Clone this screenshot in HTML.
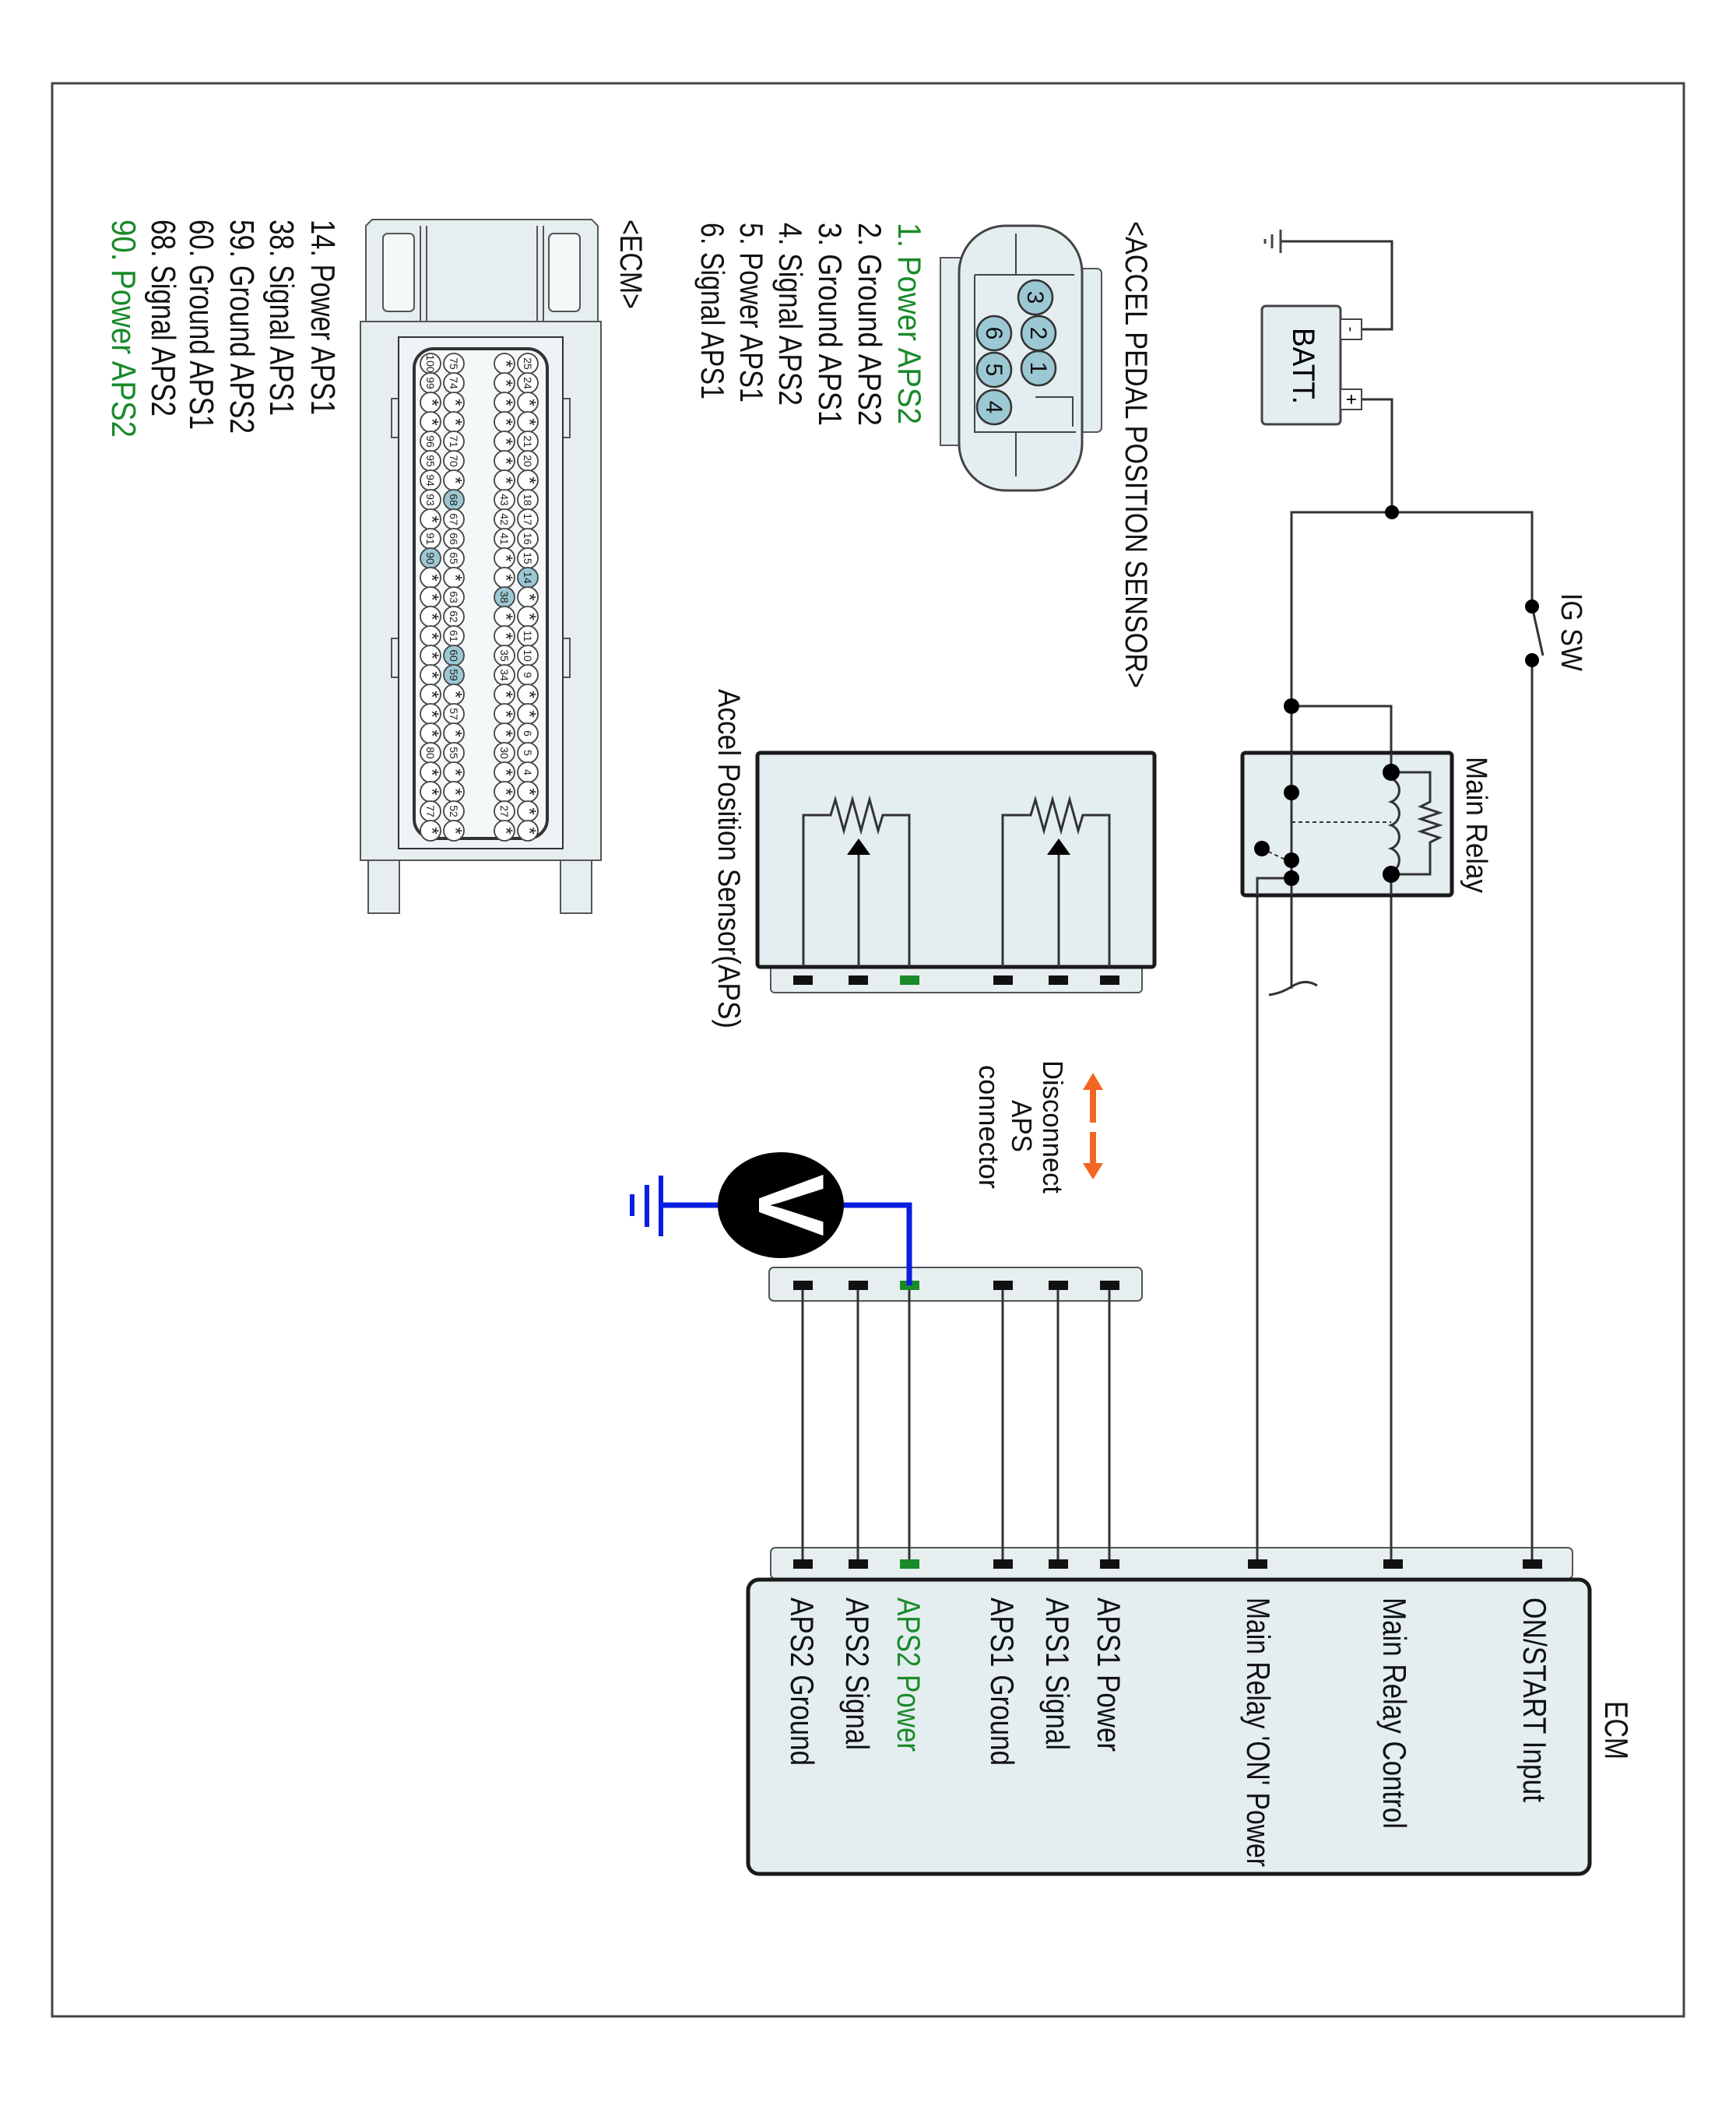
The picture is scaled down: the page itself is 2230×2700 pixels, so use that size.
<!DOCTYPE html>
<html><head><meta charset="utf-8"><style>
html,body{margin:0;padding:0;background:#fff;}
svg{display:block;}
text{font-family:"Liberation Sans",sans-serif;}
</style></head><body>
<svg width="2230" height="2700" viewBox="0 0 2230 2700" xmlns="http://www.w3.org/2000/svg">
<rect x="67" y="107" width="2096" height="2483" fill="#fff" stroke="#444" stroke-width="3"/>

<!-- ECM box -->
<rect x="990" y="1988" width="1030" height="40" rx="6" fill="#e6eef0" stroke="#555" stroke-width="2"/>
<rect x="961" y="2029" width="1081" height="378" rx="14" fill="#e4eef0" stroke="#1a1a1a" stroke-width="5"/>

<!-- upper APS connector strip -->
<rect x="988" y="1628" width="479" height="43" rx="6" fill="#e6eef0" stroke="#555" stroke-width="2"/>

<!-- APS box -->
<rect x="990" y="1240" width="477" height="35" rx="5" fill="#e6eef0" stroke="#555" stroke-width="2"/>
<rect x="973" y="967" width="510" height="275" rx="4" fill="#e4eef0" stroke="#1a1a1a" stroke-width="5"/>

<g stroke="#333" stroke-width="3" fill="none">
<line x1="1031" y1="1651" x2="1031" y2="2009"/>
<line x1="1102" y1="1651" x2="1102" y2="2009"/>
<line x1="1168" y1="1651" x2="1168" y2="2009"/>
<line x1="1288" y1="1651" x2="1288" y2="2009"/>
<line x1="1359" y1="1651" x2="1359" y2="2009"/>
<line x1="1425" y1="1651" x2="1425" y2="2009"/>
<path d="M1032 1242 V1047 H1067 l6 -20 l11 40 l11 -40 l11 40 l11 -40 l11 40 l6 -20 H1168 V1242"/>
<line x1="1103" y1="1097" x2="1103" y2="1242"/>
<path d="M1288 1242 V1047 H1324 l6 -20 l11 40 l11 -40 l11 40 l11 -40 l11 40 l6 -20 H1425 V1242"/>
<line x1="1360" y1="1097" x2="1360" y2="1242"/>
<path d="M1645 310 H1788 V423 H1749"/>
<path d="M1749 513 H1788 V658"/>
<path d="M1659 1270 V658 H1968 V779"/>
<path d="M1968 779 L1982 842"/>
<path d="M1968 848 V2009"/>
<path d="M1659 907 H1787 V992"/>
<path d="M1787 1123 V2009"/>
<path d="M1659 1128 H1615 V2009"/>
<path d="M1630 1278 q15 -2 28 -10 q18 -12 34 -2"/>
</g>

<!-- relay box -->
<rect x="1596" y="967" width="269" height="183" rx="4" fill="#e4eef0" stroke="#1a1a1a" stroke-width="5"/>
<g stroke="#333" stroke-width="3" fill="none">
<line x1="1659" y1="967" x2="1659" y2="1150"/>
<path d="M1659 1128 H1615 V1150"/>
<line x1="1787" y1="967" x2="1787" y2="992"/>
<path d="M1787 992 H1837 V1030 l-12 6 l24 8 l-24 8 l24 8 l-24 8 l24 8 l-12 6 V1123 H1787"/>
<path d="M1787 1000 a16 16 0 0 1 0 30 a16 16 0 0 1 0 30 a16 16 0 0 1 0 30 a16 16 0 0 1 0 30" />
<line x1="1787" y1="1120" x2="1787" y2="1150"/>
<line x1="1659" y1="1056" x2="1787" y2="1056" stroke-dasharray="5 4" stroke-width="2"/>
<line x1="1621" y1="1090" x2="1655" y2="1106" stroke-dasharray="5 4" stroke-width="2"/>
</g>
<g fill="#000">
<circle cx="1788" cy="658" r="9"/>
<circle cx="1968" cy="779" r="9"/>
<circle cx="1968" cy="848" r="9"/>
<circle cx="1659" cy="907" r="10"/>
<circle cx="1787" cy="992" r="11"/>
<circle cx="1787" cy="1123" r="11"/>
<circle cx="1659" cy="1018" r="10"/>
<circle cx="1659" cy="1105" r="10"/>
<circle cx="1659" cy="1128" r="10"/>
<circle cx="1621" cy="1090" r="10"/>
<polygon points="1103,1077 1088,1098 1118,1098"/>
<polygon points="1360,1077 1345,1098 1375,1098"/>
</g>

<g stroke="#444" stroke-width="3">
<line x1="1645" y1="295" x2="1645" y2="325"/>
<line x1="1634" y1="301" x2="1634" y2="319"/>
<line x1="1625" y1="307" x2="1625" y2="313"/>
</g>
<rect x="1621" y="393" width="101" height="152" rx="5" fill="#e4eef0" stroke="#444" stroke-width="3"/>
<rect x="1722" y="410" width="27" height="26" fill="#fff" stroke="#444" stroke-width="2"/>
<rect x="1722" y="500" width="27" height="26" fill="#fff" stroke="#444" stroke-width="2"/>
<text x="1729" y="423" font-size="20" transform="rotate(90 1729 423)" text-anchor="middle">-</text>
<text x="1728" y="513" font-size="24" transform="rotate(90 1728 513)" text-anchor="middle">+</text>
<text x="1661" y="470" font-size="40" transform="rotate(90 1661 470)" text-anchor="middle" textLength="98" lengthAdjust="spacingAndGlyphs">BATT.</text>

<g fill="#111">
<rect x="1019" y="1253" width="25" height="12"/><rect x="1090" y="1253" width="25" height="12"/><rect x="1156" y="1253" width="25" height="12" fill="#1a8a2a"/>
<rect x="1276" y="1253" width="25" height="12"/><rect x="1347" y="1253" width="25" height="12"/><rect x="1413" y="1253" width="25" height="12"/>
<rect x="1019" y="1645" width="25" height="12"/><rect x="1090" y="1645" width="25" height="12"/><rect x="1156" y="1645" width="25" height="12" fill="#1a8a2a"/>
<rect x="1276" y="1645" width="25" height="12"/><rect x="1347" y="1645" width="25" height="12"/><rect x="1413" y="1645" width="25" height="12"/>
<rect x="1019" y="2003" width="25" height="12"/><rect x="1090" y="2003" width="25" height="12"/><rect x="1156" y="2003" width="25" height="12" fill="#1a8a2a"/>
<rect x="1276" y="2003" width="25" height="12"/><rect x="1347" y="2003" width="25" height="12"/><rect x="1413" y="2003" width="25" height="12"/>
<rect x="1603" y="2003" width="25" height="12"/><rect x="1777" y="2003" width="25" height="12"/><rect x="1956" y="2003" width="25" height="12"/>
</g>

<path d="M1083 1548 H1168 V1651" stroke="#0a1ee0" stroke-width="7" fill="none"/>
<line x1="849" y1="1548" x2="923" y2="1548" stroke="#0a1ee0" stroke-width="7"/>
<g stroke="#0a1ee0" stroke-width="6">
<line x1="849" y1="1510" x2="849" y2="1588"/>
<line x1="831" y1="1522" x2="831" y2="1576"/>
<line x1="812" y1="1534" x2="812" y2="1562"/>
</g>
<ellipse cx="1003" cy="1548" rx="81" ry="68" fill="#000"/>
<text x="975" y="1548" font-size="120" font-weight="bold" fill="#fff" transform="rotate(90 975 1548)" text-anchor="middle">V</text>

<g fill="#f26522" stroke="none">
<rect x="1400" y="1396" width="8" height="46"/>
<polygon points="1404,1378 1391,1400 1417,1400"/>
<rect x="1400" y="1454" width="8" height="44"/>
<polygon points="1404,1515 1391,1494 1417,1494"/>
</g>

<rect x="1208" y="331" width="34" height="241" fill="#e4eef0" stroke="#555" stroke-width="2"/>
<rect x="1380" y="345" width="35" height="210" rx="6" fill="#e4eef0" stroke="#555" stroke-width="2"/>
<rect x="1232" y="290" width="158" height="340" rx="60" fill="#e4eef0" stroke="#444" stroke-width="3"/>
<path d="M1252 353 V555 H1305 V612 M1305 300 V353 M1252 353 H1380 M1252 555 H1382 M1330 510 H1378 V548" stroke="#444" stroke-width="2" fill="none"/>
<g fill="#9cc8d4" stroke="#333" stroke-width="2.5">
<circle cx="1330" cy="382" r="22"/><circle cx="1334" cy="428" r="22"/><circle cx="1334" cy="473" r="22"/>
<circle cx="1277" cy="428" r="22"/><circle cx="1277" cy="475" r="22"/><circle cx="1277" cy="523" r="22"/>
</g>
<g font-size="30" text-anchor="middle" fill="#111">
<text x="1320" y="382" transform="rotate(90 1320 382)">3</text>
<text x="1324" y="428" transform="rotate(90 1324 428)">2</text>
<text x="1324" y="473" transform="rotate(90 1324 473)">1</text>
<text x="1267" y="428" transform="rotate(90 1267 428)">6</text>
<text x="1267" y="475" transform="rotate(90 1267 475)">5</text>
<text x="1267" y="523" transform="rotate(90 1267 523)">4</text>
</g>

<g stroke="#555" stroke-width="2" fill="#e6eef0">
<path d="M470 290 L478 282 H760 L768 290 V413 H470 Z"/>
<rect x="492" y="300" width="40" height="100" rx="6" fill="#f4f8f9"/>
<rect x="705" y="300" width="40" height="100" rx="6" fill="#f4f8f9"/>
<line x1="540" y1="290" x2="540" y2="413"/><line x1="548" y1="290" x2="548" y2="413"/>
<line x1="690" y1="290" x2="690" y2="413"/><line x1="698" y1="290" x2="698" y2="413"/>
<rect x="463" y="413" width="309" height="692"/>
<rect x="473" y="1105" width="40" height="68"/><rect x="720" y="1105" width="40" height="68"/>
<rect x="503" y="512" width="14" height="50"/><rect x="718" y="512" width="14" height="50"/>
<rect x="503" y="820" width="14" height="50"/><rect x="718" y="820" width="14" height="50"/>
<path d="M512 433 H723 V1090 H512 Z" fill="#eef4f6" stroke="#333"/>
</g>
<rect x="532" y="448" width="171" height="629" rx="25" fill="#f4f8f9" stroke="#333" stroke-width="4"/>
<g stroke="#444" stroke-width="1.8" fill="#fff">
<circle cx="553" cy="467" r="13"/><circle cx="553" cy="492" r="13"/><circle cx="553" cy="517" r="13"/><circle cx="553" cy="542" r="13"/><circle cx="553" cy="567" r="13"/><circle cx="553" cy="592" r="13"/><circle cx="553" cy="617" r="13"/><circle cx="553" cy="642" r="13"/><circle cx="553" cy="667" r="13"/><circle cx="553" cy="692" r="13"/><circle cx="553" cy="717" r="13" fill="#9cc8d4"/><circle cx="553" cy="742" r="13"/><circle cx="553" cy="767" r="13"/><circle cx="553" cy="792" r="13"/><circle cx="553" cy="817" r="13"/><circle cx="553" cy="842" r="13"/><circle cx="553" cy="867" r="13"/><circle cx="553" cy="892" r="13"/><circle cx="553" cy="917" r="13"/><circle cx="553" cy="942" r="13"/><circle cx="553" cy="967" r="13"/><circle cx="553" cy="992" r="13"/><circle cx="553" cy="1017" r="13"/><circle cx="553" cy="1042" r="13"/><circle cx="553" cy="1067" r="13"/>
<circle cx="583" cy="467" r="13"/><circle cx="583" cy="492" r="13"/><circle cx="583" cy="517" r="13"/><circle cx="583" cy="542" r="13"/><circle cx="583" cy="567" r="13"/><circle cx="583" cy="592" r="13"/><circle cx="583" cy="617" r="13"/><circle cx="583" cy="642" r="13" fill="#9cc8d4"/><circle cx="583" cy="667" r="13"/><circle cx="583" cy="692" r="13"/><circle cx="583" cy="717" r="13"/><circle cx="583" cy="742" r="13"/><circle cx="583" cy="767" r="13"/><circle cx="583" cy="792" r="13"/><circle cx="583" cy="817" r="13"/><circle cx="583" cy="842" r="13" fill="#9cc8d4"/><circle cx="583" cy="867" r="13" fill="#9cc8d4"/><circle cx="583" cy="892" r="13"/><circle cx="583" cy="917" r="13"/><circle cx="583" cy="942" r="13"/><circle cx="583" cy="967" r="13"/><circle cx="583" cy="992" r="13"/><circle cx="583" cy="1017" r="13"/><circle cx="583" cy="1042" r="13"/><circle cx="583" cy="1067" r="13"/>
<circle cx="648" cy="467" r="13"/><circle cx="648" cy="492" r="13"/><circle cx="648" cy="517" r="13"/><circle cx="648" cy="542" r="13"/><circle cx="648" cy="567" r="13"/><circle cx="648" cy="592" r="13"/><circle cx="648" cy="617" r="13"/><circle cx="648" cy="642" r="13"/><circle cx="648" cy="667" r="13"/><circle cx="648" cy="692" r="13"/><circle cx="648" cy="717" r="13"/><circle cx="648" cy="742" r="13"/><circle cx="648" cy="767" r="13" fill="#9cc8d4"/><circle cx="648" cy="792" r="13"/><circle cx="648" cy="817" r="13"/><circle cx="648" cy="842" r="13"/><circle cx="648" cy="867" r="13"/><circle cx="648" cy="892" r="13"/><circle cx="648" cy="917" r="13"/><circle cx="648" cy="942" r="13"/><circle cx="648" cy="967" r="13"/><circle cx="648" cy="992" r="13"/><circle cx="648" cy="1017" r="13"/><circle cx="648" cy="1042" r="13"/><circle cx="648" cy="1067" r="13"/>
<circle cx="678" cy="467" r="13"/><circle cx="678" cy="492" r="13"/><circle cx="678" cy="517" r="13"/><circle cx="678" cy="542" r="13"/><circle cx="678" cy="567" r="13"/><circle cx="678" cy="592" r="13"/><circle cx="678" cy="617" r="13"/><circle cx="678" cy="642" r="13"/><circle cx="678" cy="667" r="13"/><circle cx="678" cy="692" r="13"/><circle cx="678" cy="717" r="13"/><circle cx="678" cy="742" r="13" fill="#9cc8d4"/><circle cx="678" cy="767" r="13"/><circle cx="678" cy="792" r="13"/><circle cx="678" cy="817" r="13"/><circle cx="678" cy="842" r="13"/><circle cx="678" cy="867" r="13"/><circle cx="678" cy="892" r="13"/><circle cx="678" cy="917" r="13"/><circle cx="678" cy="942" r="13"/><circle cx="678" cy="967" r="13"/><circle cx="678" cy="992" r="13"/><circle cx="678" cy="1017" r="13"/><circle cx="678" cy="1042" r="13"/><circle cx="678" cy="1067" r="13"/>
</g>
<g font-size="14" text-anchor="middle" fill="#222">
<text x="548" y="467" transform="rotate(90 548 467)">100</text><text x="548" y="492" transform="rotate(90 548 492)">99</text><text x="547" y="517" font-size="24" transform="rotate(90 547 517)">*</text><text x="547" y="542" font-size="24" transform="rotate(90 547 542)">*</text><text x="548" y="567" transform="rotate(90 548 567)">96</text><text x="548" y="592" transform="rotate(90 548 592)">95</text><text x="548" y="617" transform="rotate(90 548 617)">94</text><text x="548" y="642" transform="rotate(90 548 642)">93</text><text x="547" y="667" font-size="24" transform="rotate(90 547 667)">*</text><text x="548" y="692" transform="rotate(90 548 692)">91</text><text x="548" y="717" transform="rotate(90 548 717)">90</text>
<text x="547" y="742" font-size="24" transform="rotate(90 547 742)">*</text><text x="547" y="767" font-size="24" transform="rotate(90 547 767)">*</text><text x="547" y="792" font-size="24" transform="rotate(90 547 792)">*</text><text x="547" y="817" font-size="24" transform="rotate(90 547 817)">*</text><text x="547" y="842" font-size="24" transform="rotate(90 547 842)">*</text><text x="547" y="867" font-size="24" transform="rotate(90 547 867)">*</text><text x="547" y="892" font-size="24" transform="rotate(90 547 892)">*</text><text x="547" y="917" font-size="24" transform="rotate(90 547 917)">*</text><text x="547" y="942" font-size="24" transform="rotate(90 547 942)">*</text><text x="548" y="967" transform="rotate(90 548 967)">80</text><text x="547" y="992" font-size="24" transform="rotate(90 547 992)">*</text><text x="547" y="1017" font-size="24" transform="rotate(90 547 1017)">*</text><text x="548" y="1042" transform="rotate(90 548 1042)">77</text><text x="547" y="1067" font-size="24" transform="rotate(90 547 1067)">*</text>
<text x="578" y="467" transform="rotate(90 578 467)">75</text><text x="578" y="492" transform="rotate(90 578 492)">74</text><text x="577" y="517" font-size="24" transform="rotate(90 577 517)">*</text><text x="577" y="542" font-size="24" transform="rotate(90 577 542)">*</text><text x="578" y="567" transform="rotate(90 578 567)">71</text><text x="578" y="592" transform="rotate(90 578 592)">70</text><text x="577" y="617" font-size="24" transform="rotate(90 577 617)">*</text><text x="578" y="642" transform="rotate(90 578 642)">68</text><text x="578" y="667" transform="rotate(90 578 667)">67</text><text x="578" y="692" transform="rotate(90 578 692)">66</text><text x="578" y="717" transform="rotate(90 578 717)">65</text><text x="577" y="742" font-size="24" transform="rotate(90 577 742)">*</text><text x="578" y="767" transform="rotate(90 578 767)">63</text><text x="578" y="792" transform="rotate(90 578 792)">62</text><text x="578" y="817" transform="rotate(90 578 817)">61</text><text x="578" y="842" transform="rotate(90 578 842)">60</text><text x="578" y="867" transform="rotate(90 578 867)">59</text><text x="577" y="892" font-size="24" transform="rotate(90 577 892)">*</text><text x="578" y="917" transform="rotate(90 578 917)">57</text><text x="577" y="942" font-size="24" transform="rotate(90 577 942)">*</text><text x="578" y="967" transform="rotate(90 578 967)">55</text><text x="577" y="992" font-size="24" transform="rotate(90 577 992)">*</text><text x="577" y="1017" font-size="24" transform="rotate(90 577 1017)">*</text><text x="578" y="1042" transform="rotate(90 578 1042)">52</text><text x="577" y="1067" font-size="24" transform="rotate(90 577 1067)">*</text>
<text x="642" y="467" font-size="24" transform="rotate(90 642 467)">*</text><text x="642" y="492" font-size="24" transform="rotate(90 642 492)">*</text><text x="642" y="517" font-size="24" transform="rotate(90 642 517)">*</text><text x="642" y="542" font-size="24" transform="rotate(90 642 542)">*</text><text x="642" y="567" font-size="24" transform="rotate(90 642 567)">*</text><text x="642" y="592" font-size="24" transform="rotate(90 642 592)">*</text><text x="642" y="617" font-size="24" transform="rotate(90 642 617)">*</text><text x="643" y="642" transform="rotate(90 643 642)">43</text><text x="643" y="667" transform="rotate(90 643 667)">42</text><text x="643" y="692" transform="rotate(90 643 692)">41</text><text x="642" y="717" font-size="24" transform="rotate(90 642 717)">*</text><text x="642" y="742" font-size="24" transform="rotate(90 642 742)">*</text><text x="643" y="767" transform="rotate(90 643 767)">38</text><text x="642" y="792" font-size="24" transform="rotate(90 642 792)">*</text><text x="642" y="817" font-size="24" transform="rotate(90 642 817)">*</text><text x="643" y="842" transform="rotate(90 643 842)">35</text><text x="643" y="867" transform="rotate(90 643 867)">34</text><text x="642" y="892" font-size="24" transform="rotate(90 642 892)">*</text><text x="642" y="917" font-size="24" transform="rotate(90 642 917)">*</text><text x="642" y="942" font-size="24" transform="rotate(90 642 942)">*</text><text x="643" y="967" transform="rotate(90 643 967)">30</text><text x="642" y="992" font-size="24" transform="rotate(90 642 992)">*</text><text x="642" y="1017" font-size="24" transform="rotate(90 642 1017)">*</text><text x="643" y="1042" transform="rotate(90 643 1042)">27</text><text x="642" y="1067" font-size="24" transform="rotate(90 642 1067)">*</text>
<text x="673" y="467" transform="rotate(90 673 467)">25</text><text x="673" y="492" transform="rotate(90 673 492)">24</text><text x="672" y="517" font-size="24" transform="rotate(90 672 517)">*</text><text x="672" y="542" font-size="24" transform="rotate(90 672 542)">*</text><text x="673" y="567" transform="rotate(90 673 567)">21</text><text x="673" y="592" transform="rotate(90 673 592)">20</text><text x="672" y="617" font-size="24" transform="rotate(90 672 617)">*</text><text x="673" y="642" transform="rotate(90 673 642)">18</text><text x="673" y="667" transform="rotate(90 673 667)">17</text><text x="673" y="692" transform="rotate(90 673 692)">16</text><text x="673" y="717" transform="rotate(90 673 717)">15</text><text x="673" y="742" transform="rotate(90 673 742)">14</text><text x="672" y="767" font-size="24" transform="rotate(90 672 767)">*</text><text x="672" y="792" font-size="24" transform="rotate(90 672 792)">*</text><text x="673" y="817" transform="rotate(90 673 817)">11</text><text x="673" y="842" transform="rotate(90 673 842)">10</text><text x="673" y="867" transform="rotate(90 673 867)">9</text><text x="672" y="892" font-size="24" transform="rotate(90 672 892)">*</text><text x="672" y="917" font-size="24" transform="rotate(90 672 917)">*</text><text x="673" y="942" transform="rotate(90 673 942)">6</text><text x="673" y="967" transform="rotate(90 673 967)">5</text><text x="673" y="992" transform="rotate(90 673 992)">4</text><text x="672" y="1017" font-size="24" transform="rotate(90 672 1017)">*</text><text x="672" y="1042" font-size="24" transform="rotate(90 672 1042)">*</text><text x="672" y="1067" font-size="24" transform="rotate(90 672 1067)">*</text>
</g>

<g font-size="42" fill="#111">
<text x="1446" y="284" transform="rotate(90 1446 284)" textLength="600" lengthAdjust="spacingAndGlyphs" font-size="40">&lt;ACCEL PEDAL POSITION SENSOR&gt;</text>
<text x="1154" y="286" transform="rotate(90 1154 286)" textLength="259" lengthAdjust="spacingAndGlyphs" fill="#1a8a2a">1. Power APS2</text>
<text x="1103" y="286" transform="rotate(90 1103 286)" textLength="261" lengthAdjust="spacingAndGlyphs">2. Ground APS2</text>
<text x="1052" y="286" transform="rotate(90 1052 286)" textLength="261" lengthAdjust="spacingAndGlyphs">3. Ground APS1</text>
<text x="1001" y="286" transform="rotate(90 1001 286)" textLength="235" lengthAdjust="spacingAndGlyphs">4. Signal APS2</text>
<text x="951" y="286" transform="rotate(90 951 286)" textLength="231" lengthAdjust="spacingAndGlyphs">5. Power APS1</text>
<text x="901" y="286" transform="rotate(90 901 286)" textLength="227" lengthAdjust="spacingAndGlyphs">6. Signal APS1</text>

<text x="797" y="282" transform="rotate(90 797 282)" textLength="115" lengthAdjust="spacingAndGlyphs" font-size="40">&lt;ECM&gt;</text>
<text x="400" y="282" transform="rotate(90 400 282)" textLength="251" lengthAdjust="spacingAndGlyphs" font-size="44">14. Power APS1</text>
<text x="347" y="282" transform="rotate(90 347 282)" textLength="252" lengthAdjust="spacingAndGlyphs" font-size="44">38. Signal APS1</text>
<text x="296" y="282" transform="rotate(90 296 282)" textLength="275" lengthAdjust="spacingAndGlyphs" font-size="44">59. Ground APS2</text>
<text x="244" y="282" transform="rotate(90 244 282)" textLength="270" lengthAdjust="spacingAndGlyphs" font-size="44">60. Ground APS1</text>
<text x="195" y="282" transform="rotate(90 195 282)" textLength="253" lengthAdjust="spacingAndGlyphs" font-size="44">68. Signal APS2</text>
<text x="144" y="282" transform="rotate(90 144 282)" textLength="280" lengthAdjust="spacingAndGlyphs" font-size="44" fill="#1a8a2a">90. Power APS2</text>

<text x="923" y="885" transform="rotate(90 923 885)" textLength="436" lengthAdjust="spacingAndGlyphs" font-size="40">Accel Position Sensor(APS)</text>
<text x="1884" y="972" transform="rotate(90 1884 972)" textLength="175" lengthAdjust="spacingAndGlyphs" font-size="38">Main Relay</text>
<text x="2006" y="762" transform="rotate(90 2006 762)" textLength="100" lengthAdjust="spacingAndGlyphs" font-size="38">IG SW</text>

<text x="1340" y="1362" transform="rotate(90 1340 1362)" textLength="171" lengthAdjust="spacingAndGlyphs" font-size="36">Disconnect</text>
<text x="1300" y="1413" transform="rotate(90 1300 1413)" textLength="67" lengthAdjust="spacingAndGlyphs" font-size="36">APS</text>
<text x="1258" y="1368" transform="rotate(90 1258 1368)" textLength="159" lengthAdjust="spacingAndGlyphs" font-size="36">connector</text>

<text x="1016" y="2052" transform="rotate(90 1016 2052)" textLength="216" lengthAdjust="spacingAndGlyphs">APS2 Ground</text>
<text x="1087" y="2052" transform="rotate(90 1087 2052)" textLength="196" lengthAdjust="spacingAndGlyphs">APS2 Signal</text>
<text x="1153" y="2052" transform="rotate(90 1153 2052)" textLength="198" lengthAdjust="spacingAndGlyphs" fill="#1a8a2a">APS2 Power</text>
<text x="1273" y="2052" transform="rotate(90 1273 2052)" textLength="216" lengthAdjust="spacingAndGlyphs">APS1 Ground</text>
<text x="1344" y="2052" transform="rotate(90 1344 2052)" textLength="196" lengthAdjust="spacingAndGlyphs">APS1 Signal</text>
<text x="1410" y="2052" transform="rotate(90 1410 2052)" textLength="198" lengthAdjust="spacingAndGlyphs">APS1 Power</text>
<text x="1602" y="2052" transform="rotate(90 1602 2052)" textLength="346" lengthAdjust="spacingAndGlyphs">Main Relay 'ON' Power</text>
<text x="1777" y="2052" transform="rotate(90 1777 2052)" textLength="297" lengthAdjust="spacingAndGlyphs">Main Relay Control</text>
<text x="1957" y="2052" transform="rotate(90 1957 2052)" textLength="263" lengthAdjust="spacingAndGlyphs">ON/START Input</text>
<text x="2062" y="2185" transform="rotate(90 2062 2185)" textLength="75" lengthAdjust="spacingAndGlyphs">ECM</text>
</g>
</svg>
</body></html>
